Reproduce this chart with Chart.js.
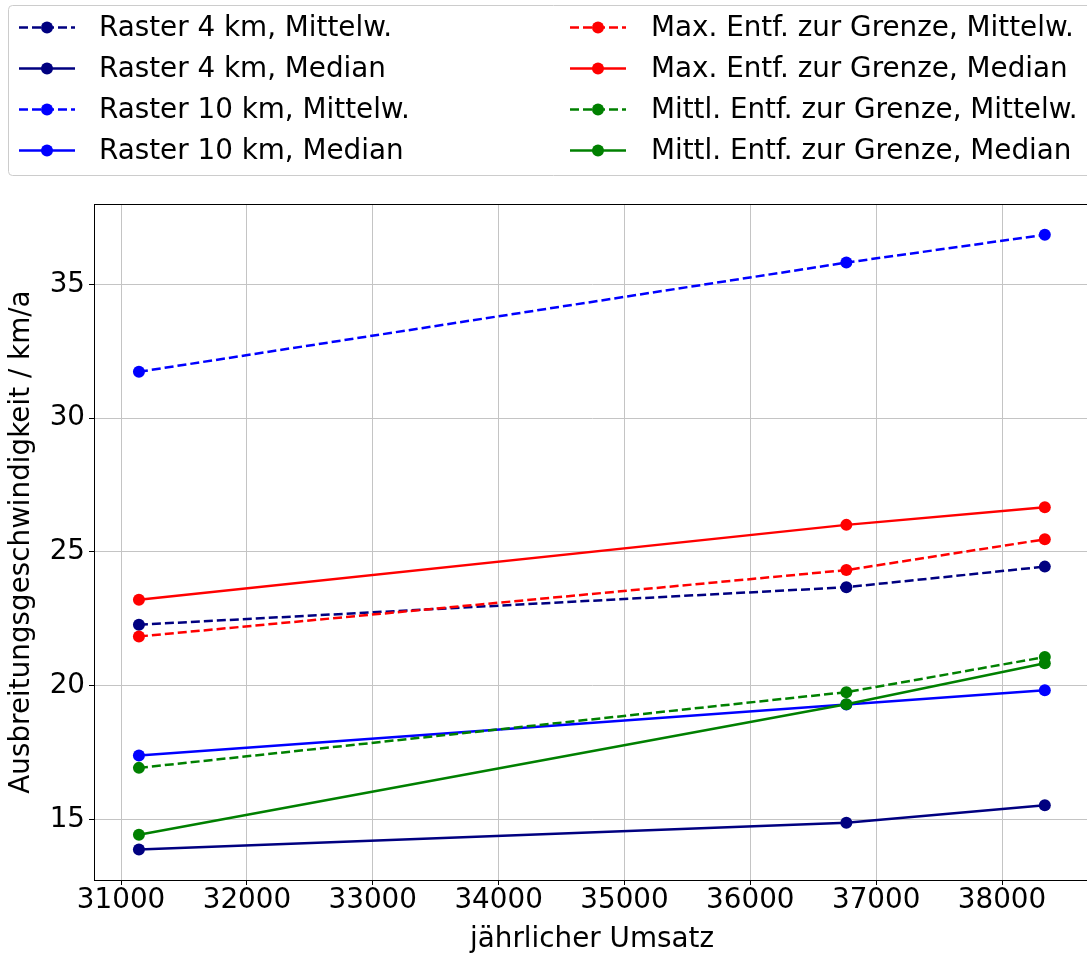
<!DOCTYPE html>
<html>
<head>
<meta charset="utf-8">
<script src="https://cdn.jsdelivr.net/npm/chart.js@4/dist/chart.umd.min.js"></script>
<style>
  html, body { margin: 0; padding: 0; overflow: hidden; background: #fff; }
  canvas { display: block; }
</style>
</head>
<body>
<canvas id="c" width="1096" height="954"></canvas>
<script>
// Jährlicher Umsatz (x) und Ausbreitungsgeschwindigkeit in km/a (y)
const umsatz = [31142, 36763, 38340];

const raster4Mittelw   = [22.28, 23.68, 24.45];
const raster4Median    = [13.88, 14.88, 15.53];
const raster10Mittelw  = [31.73, 35.81, 36.85];
const raster10Median   = [17.39, 19.30, 19.83];
const maxEntfMittelw   = [21.84, 24.32, 25.47];
const maxEntfMedian    = [23.21, 26.01, 26.67];
const mittlEntfMittelw = [16.93, 19.76, 21.07];
const mittlEntfMedian  = [14.43, 19.31, 20.84];

const seriesNames = [
  'Raster 4 km, Mittelw.',
  'Raster 4 km, Median',
  'Raster 10 km, Mittelw.',
  'Raster 10 km, Median',
  'Max. Entf. zur Grenze, Mittelw.',
  'Max. Entf. zur Grenze, Median',
  'Mittl. Entf. zur Grenze, Mittelw.',
  'Mittl. Entf. zur Grenze, Median'
];

const xTicks = [31000, 32000, 33000, 34000, 35000, 36000, 37000, 38000];
const yTicks = [15, 20, 25, 30, 35];

const xTitle = 'jährlicher Umsatz';
const yTitle = 'Ausbreitungsgeschwindigkeit / km/a';

const FONT = 'DejaVu Sans';
const FS = 27.8;
const DASH = [9, 4];

const seriesValues = [
  raster4Mittelw, raster4Median, raster10Mittelw, raster10Median,
  maxEntfMittelw, maxEntfMedian, mittlEntfMittelw, mittlEntfMedian
];
const seriesColors = ['#000080', '#000080', '#0000ff', '#0000ff', '#ff0000', '#ff0000', '#008000', '#008000'];
const seriesDashed = [true, false, true, false, true, false, true, false];

const datasets = seriesValues.map((vals, i) => ({
  label: seriesNames[i],
  data: vals.map((y, k) => ({ x: umsatz[k], y })),
  borderColor: seriesColors[i],
  backgroundColor: seriesColors[i],
  pointBackgroundColor: seriesColors[i],
  pointBorderColor: seriesColors[i],
  borderWidth: 2.5,
  borderDash: seriesDashed[i] ? DASH : [],
  pointRadius: 6,
  pointBorderWidth: 0,
  tension: 0,
  fill: false,
  // later series are painted on top
  order: seriesValues.length - i
}));

// Legend in a framed two-column box above the plot
const boxLegend = {
  id: 'boxLegend',
  afterDraw(chart) {
    const ctx = chart.ctx;
    ctx.save();
    ctx.beginPath();
    ctx.roundRect(8.5, 5.5, 1090, 170, 4);
    ctx.fillStyle = 'rgba(255,255,255,0.8)';
    ctx.fill();
    ctx.strokeStyle = '#cccccc';
    ctx.lineWidth = 1;
    ctx.stroke();

    chart.data.datasets.forEach((ds, i) => {
      const col = Math.floor(i / 4), row = i % 4;
      const x0 = col ? 570 : 19;
      const x1 = x0 + 56;
      const tx = col ? 651 : 99;
      const y = 27.5 + row * 41;
      ctx.strokeStyle = ds.borderColor;
      ctx.lineWidth = 2.5;
      ctx.setLineDash(ds.borderDash);
      ctx.beginPath();
      ctx.moveTo(x0, y);
      ctx.lineTo(x1, y);
      ctx.stroke();
      ctx.setLineDash([]);
      ctx.fillStyle = ds.borderColor;
      ctx.beginPath();
      ctx.arc((x0 + x1) / 2, y, 6, 0, Math.PI * 2);
      ctx.fill();
      ctx.fillStyle = '#000';
      ctx.font = `${FS}px "${FONT}"`;
      ctx.textBaseline = 'middle';
      ctx.textAlign = 'left';
      ctx.fillText(ds.label, tx, y + 1);
    });
    ctx.restore();
  }
};

// Full frame around the plot area
const frame = {
  id: 'frame',
  afterDatasetsDraw(chart) {
    const { ctx, chartArea: a } = chart;
    ctx.save();
    ctx.strokeStyle = '#000';
    ctx.lineWidth = 1;
    ctx.strokeRect(Math.round(a.left) + 0.5, Math.round(a.top) + 0.5,
                   Math.round(a.right - a.left), Math.round(a.bottom - a.top));
    ctx.restore();
  }
};

Chart.defaults.font.family = FONT;
Chart.defaults.color = '#000';

new Chart(document.getElementById('c'), {
  type: 'line',
  data: { datasets },
  plugins: [boxLegend, frame],
  options: {
    responsive: false,
    animation: false,
    devicePixelRatio: 1,
    layout: { padding: { top: 204, right: 2, left: 0, bottom: 0 } },
    plugins: { legend: { display: false }, tooltip: { enabled: false } },
    scales: {
      x: {
        type: 'linear',
        min: 30785,
        max: 38699,
        afterBuildTicks: s => { s.ticks = xTicks.map(v => ({ value: v })); },
        afterFit: s => { s.height = 74; },
        ticks: {
          font: { size: FS, lineHeight: 1.0 },
          padding: 2,
          maxRotation: 0,
          autoSkip: false,
          callback: v => String(v)
        },
        grid: { color: '#c4c4c4', lineWidth: 1, tickLength: 5, tickColor: '#000', tickWidth: 1 },
        border: { display: true, color: '#000', width: 1 },
        title: {
          display: true, text: xTitle,
          font: { size: FS, lineHeight: 1.0 },
          padding: { top: 0, bottom: 0 }
        }
      },
      y: {
        type: 'linear',
        min: 12.74,
        max: 38.0,
        afterBuildTicks: s => { s.ticks = yTicks.map(v => ({ value: v })); },
        afterFit: s => { s.width = 94; },
        ticks: { font: { size: FS, lineHeight: 1.0 }, padding: 4, callback: v => String(v) },
        grid: { color: '#c4c4c4', lineWidth: 1, tickLength: 5, tickColor: '#000', tickWidth: 1 },
        border: { display: true, color: '#000', width: 1 },
        title: {
          display: true, text: yTitle,
          font: { size: FS, lineHeight: 1.0 },
          padding: { top: 8, bottom: 0 }
        }
      }
    }
  }
});
</script>
</body>
</html>
